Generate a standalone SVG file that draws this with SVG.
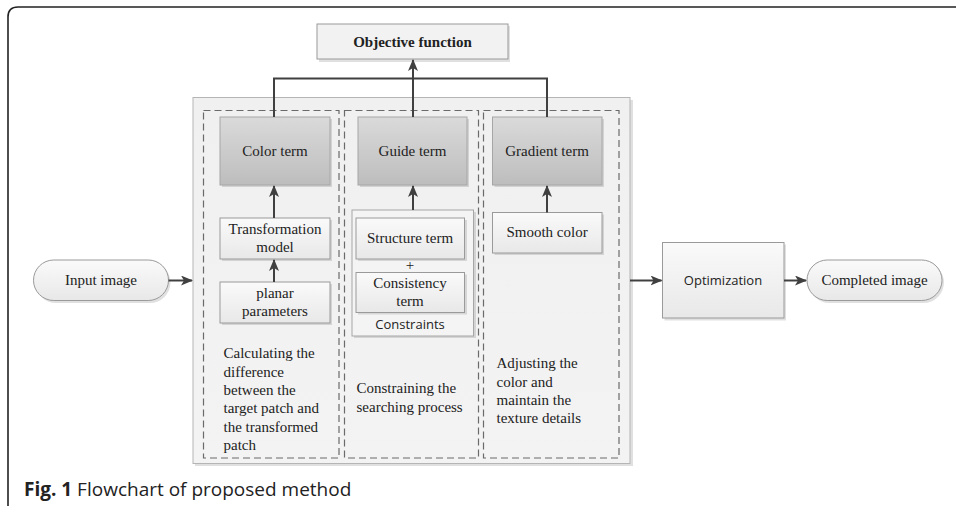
<svg xmlns="http://www.w3.org/2000/svg" width="956" height="506" viewBox="0 0 956 506">
<defs>
<linearGradient id="gDark" x1="0" y1="0" x2="0" y2="1"><stop offset="0" stop-color="#dadada"/><stop offset="1" stop-color="#bdbdbd"/></linearGradient>
<linearGradient id="gLight" x1="0" y1="0" x2="0" y2="1"><stop offset="0" stop-color="#fafafa"/><stop offset="1" stop-color="#e8e8e8"/></linearGradient>
<linearGradient id="gCont" x1="0" y1="0" x2="0" y2="1"><stop offset="0" stop-color="#f0f0f0"/><stop offset="1" stop-color="#f3f3f3"/></linearGradient>
<marker id="arr" viewBox="0 0 12 10" refX="11" refY="5" markerWidth="12" markerHeight="10" markerUnits="userSpaceOnUse" orient="auto"><path d="M0,0 L12,5 L0,10 L3,5 Z" fill="#404040"/></marker>
</defs>
<style>
.serif{font-family:"Liberation Serif","Times New Roman",serif;font-size:15px;fill:#222}
.sans{font-family:"Open Sans","Noto Sans",sans-serif;font-size:13px;fill:#222}
.dark{fill:url(#gDark);stroke:#a6a6a6;stroke-width:1}
.light{fill:url(#gLight);stroke:#9a9a9a;stroke-width:1}
.shadow{fill:#000;opacity:0.12}
.dash{fill:none;stroke:#6a6a6a;stroke-width:1.2;stroke-dasharray:7,4}
.conn{fill:none;stroke:#404040;stroke-width:2}
</style>
<rect width="956" height="506" fill="#fff"/>
<path d="M8,506 L8,17 Q8,7 18,7 L956,7" fill="none" stroke="#222" stroke-width="1.6"/>

<g id="objective">
<rect x="319" y="26" width="191" height="36" class="shadow"/>
<rect x="317" y="24" width="191" height="35" fill="#f2f2f2" stroke="#9a9a9a"/>
<text x="412.5" y="47" text-anchor="middle" class="serif" font-weight="bold">Objective function</text>
</g>

<g id="container">
<rect x="195" y="100" width="438" height="366" class="shadow"/>
<rect x="193" y="97.5" width="437" height="366" fill="url(#gCont)" stroke="#b5b5b5"/>
<rect x="203.5" y="110.5" width="135.5" height="347.5" class="dash"/>
<rect x="344.5" y="110.5" width="134" height="347.5" class="dash"/>
<rect x="483.5" y="110.5" width="135.5" height="347.5" class="dash"/>
</g>

<g id="color-term">
<rect x="222" y="119" width="110" height="68" class="shadow"/>
<rect x="220" y="117" width="110" height="68" class="dark"/>
<text x="275" y="156" text-anchor="middle" class="serif">Color term</text>
</g>
<g id="guide-term">
<rect x="360" y="119" width="109" height="68" class="shadow"/>
<rect x="358" y="117" width="109" height="68" class="dark"/>
<text x="412.5" y="156" text-anchor="middle" class="serif">Guide term</text>
</g>
<g id="gradient-term">
<rect x="494.5" y="119" width="109.5" height="68" class="shadow"/>
<rect x="492.5" y="117" width="109.5" height="68" class="dark"/>
<text x="547" y="156" text-anchor="middle" class="serif">Gradient term</text>
</g>

<g id="transformation-model">
<rect x="222" y="220" width="110" height="41" class="shadow"/>
<rect x="220" y="218" width="110" height="41" class="light"/>
<text x="275" y="234" text-anchor="middle" class="serif">Transformation</text>
<text x="275" y="252" text-anchor="middle" class="serif">model</text>
</g>
<g id="planar-parameters">
<rect x="222" y="284" width="110" height="41" class="shadow"/>
<rect x="220" y="282" width="110" height="41" class="light"/>
<text x="275" y="298" text-anchor="middle" class="serif">planar</text>
<text x="275" y="316" text-anchor="middle" class="serif">parameters</text>
</g>

<g id="constraints">
<rect x="354" y="212" width="122" height="126" class="shadow"/>
<rect x="352" y="210" width="121.5" height="126" fill="#f4f4f4" stroke="#a6a6a6"/>
<text x="410" y="329" text-anchor="middle" class="sans">Constraints</text>
</g>
<g id="structure-term">
<rect x="358" y="220" width="109" height="41" class="shadow"/>
<rect x="356" y="218" width="108.5" height="41" class="light"/>
<text x="410" y="243" text-anchor="middle" class="serif">Structure term</text>
</g>
<text x="410" y="270" text-anchor="middle" class="serif" font-size="14">+</text>
<g id="consistency-term">
<rect x="358" y="274.5" width="109" height="40" class="shadow"/>
<rect x="356" y="272.5" width="108.5" height="40" class="light"/>
<text x="410" y="288" text-anchor="middle" class="serif">Consistency</text>
<text x="410" y="306" text-anchor="middle" class="serif">term</text>
</g>
<g id="smooth-color">
<rect x="494.5" y="214.5" width="109.5" height="40.5" class="shadow"/>
<rect x="492.5" y="212.5" width="109.5" height="40.5" class="light"/>
<text x="547" y="237" text-anchor="middle" class="serif">Smooth color</text>
</g>

<g id="desc-color" class="serif">
<text x="223.5" y="358">Calculating the</text>
<text x="223.5" y="376.5">difference</text>
<text x="223.5" y="395">between the</text>
<text x="223.5" y="413">target patch and</text>
<text x="223.5" y="431.5">the transformed</text>
<text x="223.5" y="450">patch</text>
</g>
<g id="desc-guide" class="serif">
<text x="356.5" y="393">Constraining the</text>
<text x="356.5" y="411.5">searching process</text>
</g>
<g id="desc-gradient" class="serif">
<text x="496.5" y="368">Adjusting the</text>
<text x="496.5" y="386.5">color and</text>
<text x="496.5" y="405">maintain the</text>
<text x="496.5" y="423">texture details</text>
</g>

<g id="input-image">
<rect x="35.5" y="262" width="135" height="41" rx="20.5" class="shadow"/>
<rect x="33.5" y="260" width="135" height="40.5" rx="20.25" class="light"/>
<text x="101" y="285" text-anchor="middle" class="serif">Input image</text>
</g>
<g id="optimization">
<rect x="664.5" y="244.5" width="121.5" height="76" class="shadow"/>
<rect x="662.5" y="242.5" width="121.5" height="75.5" class="light"/>
<text x="723" y="285" text-anchor="middle" class="sans" font-size="14">Optimization</text>
</g>
<g id="completed-image">
<rect x="809" y="262" width="135" height="41" rx="20.5" class="shadow"/>
<rect x="807" y="260" width="135" height="40.5" rx="20.25" class="light"/>
<text x="874.5" y="285" text-anchor="middle" class="serif">Completed image</text>
</g>

<g id="connectors">
<path d="M274,117 V78.5 H547 V117" class="conn"/>
<path d="M413,117 V60" class="conn" marker-end="url(#arr)"/>
<path d="M274,218 V186" class="conn" marker-end="url(#arr)"/>
<path d="M274,282 V260" class="conn" marker-end="url(#arr)"/>
<path d="M413,210 V186" class="conn" marker-end="url(#arr)"/>
<path d="M547,212.5 V186" class="conn" marker-end="url(#arr)"/>
<path d="M168.5,280.5 H192" class="conn" marker-end="url(#arr)"/>
<path d="M630,280.5 H661.5" class="conn" marker-end="url(#arr)"/>
<path d="M784,280.5 H806" class="conn" marker-end="url(#arr)"/>
</g>

<text x="24" y="496" font-family="'Open Sans','Noto Sans',sans-serif" font-size="19" fill="#222"><tspan font-weight="bold">Fig. 1</tspan> Flowchart of proposed method</text>
</svg>
